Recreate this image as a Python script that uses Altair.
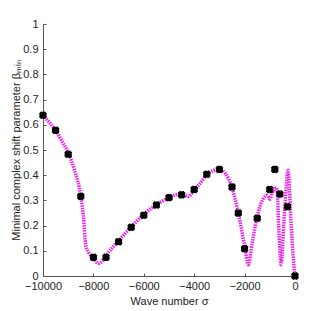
import altair as alt
import pandas as pd

# magenta curve
curve_x = [-10000, -9750, -9500, -9250, -9000, -8750, -8500, -8400, -8300, -8200, -8000, -7800,
           -7600, -7500, -7000, -6500, -6000, -5500, -5000, -4750, -4500, -4250, -4000,
           -3750, -3500, -3250, -3000, -2750, -2500, -2250, -2000, -1850, -1700, -1500,
           -1300, -1200, -1100, -1000, -900, -800, -750, -700, -650, -600, -550, -450,
           -350, -300, -270, -250, -150, -50, 0]
curve_y = [0.638, 0.61, 0.578, 0.535, 0.49, 0.42, 0.316, 0.24, 0.12, 0.095, 0.07, 0.05,
           0.065, 0.08, 0.14, 0.195, 0.245, 0.283, 0.31, 0.322, 0.326, 0.315, 0.34,
           0.37, 0.402, 0.418, 0.423, 0.405, 0.35, 0.25, 0.12, 0.045, 0.13, 0.235,
           0.3, 0.315, 0.32, 0.305, 0.33, 0.345, 0.35, 0.33, 0.2, 0.1, 0.045, 0.2,
           0.35, 0.41, 0.42, 0.4, 0.2, 0.05, 0.0]

# black markers
mark_x = [-10000, -9500, -9000, -8500, -8000, -7500, -7000, -6500, -6000, -5500, -5000,
          -4500, -4000, -3500, -3000, -2500, -2250, -2000, -1500, -1000, -800, -600, -300, 0]
mark_y = [0.638, 0.578, 0.483, 0.316, 0.074, 0.074, 0.136, 0.193, 0.241, 0.282, 0.311,
          0.322, 0.343, 0.404, 0.423, 0.353, 0.25, 0.108, 0.229, 0.343, 0.423, 0.325, 0.275, 0.0]

x_ticks = [-10000, -8000, -6000, -4000, -2000, 0]
y_ticks = [0, 0.1, 0.2, 0.3, 0.4, 0.5, 0.6, 0.7, 0.8, 0.9, 1]

curve = pd.DataFrame({"x": curve_x, "y": curve_y})
marks = pd.DataFrame({"x": mark_x, "y": mark_y})

xs = alt.Scale(domain=[-10000, 0], nice=False)
ys = alt.Scale(domain=[0, 1], nice=False)

xax = alt.Axis(values=x_ticks, format="d", title="Wave number σ",
               tickSize=alt.ExprRef("-3"), labelPadding=7, titlePadding=4,
               labelFlush=False, labelOverlap=False)
yax = alt.Axis(values=y_ticks, format="~g",
               title="Minimal complex shift parameter βₘᵢₙ",
               tickSize=alt.ExprRef("-3"), labelPadding=8, titlePadding=1,
               labelFlush=False, labelOverlap=False)

X = alt.X("x:Q", scale=xs, axis=xax)
Y = alt.Y("y:Q", scale=ys, axis=yax)

line = alt.Chart(curve).mark_line(
    color="#f020f0", strokeWidth=3.5, strokeDash=[1.5, 1], interpolate="monotone"
).encode(x=X, y=Y)

pts = alt.Chart(marks).mark_point(
    shape="circle", filled=True, color="black", size=50, opacity=1
).encode(x=X, y=Y)

star = alt.Chart(marks).mark_point(
    shape="cross", filled=True, color="black", size=65, opacity=1, angle=45
).encode(x=X, y=Y)

chart = alt.layer(line, pts, star).properties(
    width=252, height=252,
    background="white",
    autosize=alt.AutoSizeParams(type="none"),
    padding={"left": 35, "top": 16, "right": 16, "bottom": 30},
).configure_view(stroke=None).configure_axis(
    domainColor="#555555", tickColor="#555555", labelColor="#222222", titleColor="#222222",
    labelFont="Liberation Sans", titleFont="Liberation Sans",
    labelFontSize=11, titleFontSize=11, titleFontWeight="normal", grid=False,
)

chart.save("out.html", embed_options={"renderer": "svg", "actions": False})
